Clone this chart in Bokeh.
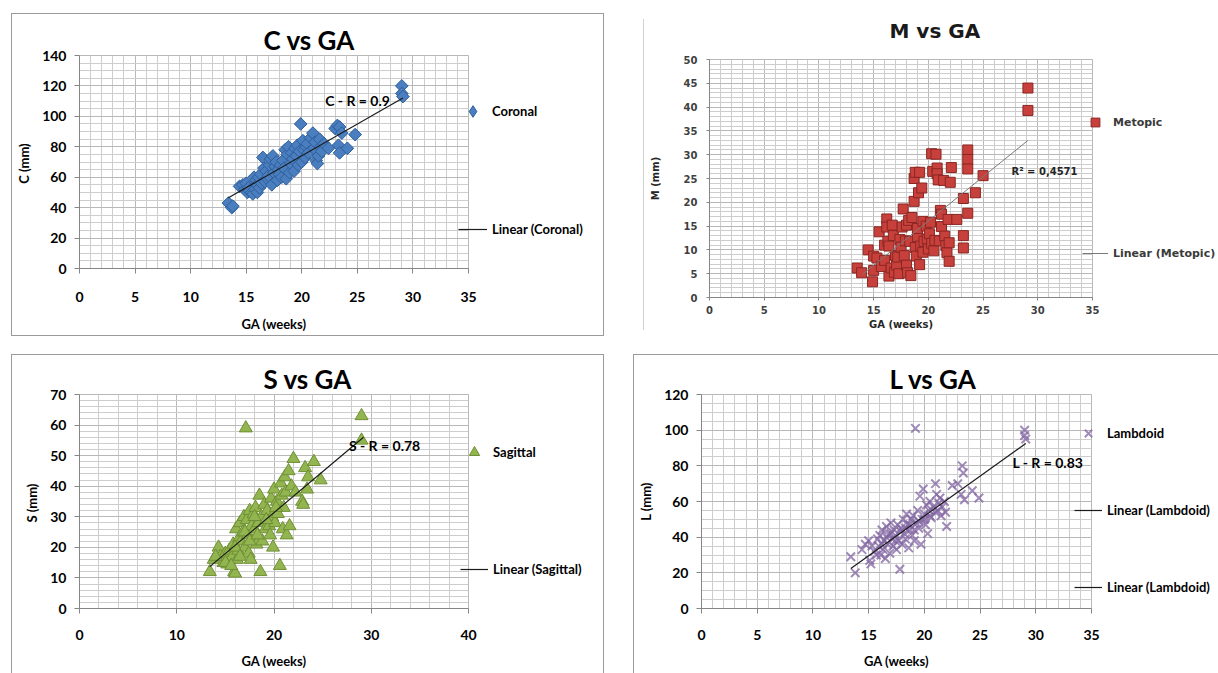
import math
from bokeh.plotting import figure
from bokeh.models import Range1d, SingleIntervalTicker, Label, Legend, LegendItem
from bokeh.layouts import column, row
from bokeh.embed import file_html
from bokeh.resources import INLINE

# ---------------- data ----------------
c_ga = [13.4, 13.7, 13.8, 14.4, 14.7, 14.9, 15.0, 15.1, 15.2, 15.3, 15.5, 15.6, 15.7, 15.8, 15.9,
        16.0, 16.0, 16.1, 16.2, 16.3, 16.4, 16.5, 16.6, 16.7, 16.8, 16.9,
        17.0, 17.1, 17.2, 17.3, 17.4, 17.5, 17.6, 17.7, 17.8, 17.9,
        18.0, 18.1, 18.2, 18.3, 18.4, 18.5, 18.6, 18.7, 18.8, 18.9,
        19.0, 19.1, 19.2, 19.3, 19.4, 19.5, 19.6, 19.7, 19.8, 19.9,
        20.0, 20.1, 20.2, 20.3, 20.4, 20.5, 20.6, 20.8,
        21.0, 21.1, 21.2, 21.3, 21.4, 21.5, 21.6, 21.7, 21.8, 22.0, 22.4,
        23.0, 23.2, 23.3, 23.4, 23.4, 23.6, 24.1, 24.8, 29.0, 29.0, 29.1]
c_mm = [43, 40, 41, 54, 55, 52, 56, 50, 53, 51, 50, 49, 60, 52, 58,
        55, 50, 60, 53, 62, 56, 73, 66, 57, 64, 59,
        61, 68, 72, 55, 74, 63, 67, 70, 58, 65,
        62, 68, 60, 71, 66, 78, 59, 75, 80, 63,
        69, 76, 72, 64, 79, 74, 81, 68, 77, 95,
        70, 84, 78, 73, 80, 82, 76, 86,
        89, 79, 83, 71, 69, 74, 85, 80, 77, 82, 79,
        92, 94, 81, 93, 76, 89, 79, 88, 120, 115, 113]
c_trend_ga = [13.4, 29.1]
c_trend_mm = [46.5, 112.0]

m_ga = [13.5, 13.9, 14.5, 14.9, 15.0, 15.0, 15.3, 15.5, 15.7,
        16.0, 16.0, 16.2, 16.2, 16.3, 16.4, 16.4, 16.6, 16.7, 16.8, 16.9,
        17.0, 17.1, 17.2, 17.3, 17.4, 17.5, 17.6, 17.7, 17.8, 17.9,
        18.0, 18.0, 18.1, 18.2, 18.3, 18.4, 18.5, 18.7, 18.7, 18.8, 18.8, 18.9,
        19.0, 19.0, 19.1, 19.2, 19.2, 19.3, 19.4, 19.5, 19.5, 19.6, 19.8, 19.9,
        20.0, 20.1, 20.2, 20.3, 20.3, 20.4, 20.5, 20.6, 20.7, 20.8, 20.8, 20.9,
        21.0, 21.1, 21.2, 21.2, 21.4, 21.5, 21.6, 21.7, 21.8, 21.9, 21.9,
        22.0, 22.1, 22.6, 23.2, 23.2, 23.2, 23.6, 23.6, 23.6, 23.6, 24.3, 25.0, 29.1, 29.1]
m_mm = [6.2, 5.2, 10.0, 3.3, 8.7, 5.7, 8.3, 13.8, 6.5,
        7.8, 11.0, 16.5, 14.8, 11.8, 10.8, 4.5, 6.2, 15.2, 13.0, 5.3,
        8.8, 6.8, 8.5, 5.0, 12.2, 10.6, 14.8, 18.6, 8.8, 11.9,
        15.2, 6.8, 5.2, 16.2, 11.8, 4.6, 16.8, 20.2, 25.0, 26.3, 10.5, 8.7,
        12.8, 14.5, 22.0, 26.3, 6.9, 10.8, 23.0, 16.0, 9.5, 11.8, 15.0, 12.3,
        10.2, 13.4, 15.8, 11.4, 30.2, 26.5, 9.8, 12.0, 30.1, 27.2, 26.0, 24.7,
        11.9, 18.3, 17.5, 14.9, 24.6, 12.9, 10.9, 9.4, 16.4, 7.6, 11.5,
        24.2, 27.3, 16.4, 20.8, 13.0, 10.4, 31.0, 29.0, 27.0, 17.7, 22.0, 25.6, 44.0, 39.3]
m_trend_ga = [14.0, 29.1]
m_trend_mm = [4.9, 33.0]

s_ga = [13.4, 13.8, 14.3, 14.5, 14.8, 15.0, 15.2, 15.4, 15.5, 15.7, 15.8, 15.9,
        16.0, 16.1, 16.2, 16.3, 16.4, 16.5, 16.6, 16.8, 16.9,
        17.0, 17.1, 17.2, 17.3, 17.4, 17.5, 17.6, 17.7, 17.8, 17.9,
        18.0, 18.1, 18.2, 18.4, 18.5, 18.6, 18.7, 18.8,
        19.0, 19.1, 19.3, 19.5, 19.7, 19.8, 19.9,
        20.0, 20.1, 20.3, 20.4, 20.6, 20.7, 20.8, 20.9,
        21.0, 21.1, 21.2, 21.3, 21.5, 21.6, 21.8, 22.0, 22.2, 22.9,
        23.0, 23.2, 23.4, 23.5, 24.1, 24.8, 29.0, 29.0,
        14.0, 15.0, 15.6, 16.0, 16.5, 17.0, 17.5, 18.0, 18.3, 19.2, 19.6, 20.2]
s_mm = [12, 16, 20, 17, 15, 18, 14.5, 19, 16, 17, 21, 12,
        11.5, 26, 16, 19, 23, 28, 22, 25, 30,
        20, 59, 29, 24, 18, 32, 16, 27, 22, 31,
        26, 33, 21, 28, 37, 12, 30, 22,
        34, 26, 32, 27, 36, 30, 20,
        39, 28, 35, 31, 14, 41, 37, 26,
        33, 43, 38, 24, 45, 27, 40, 49, 38, 35,
        34, 46, 39, 43, 48, 42, 63, 55,
        17, 15, 14, 20, 17, 25, 22, 30, 24, 29, 24, 33]
s_trend_ga = [13.4, 29.2]
s_trend_mm = [13.7, 56.0]

l_ga = [13.4, 13.8, 14.4, 14.7, 15.0, 15.1, 15.2, 15.5, 15.7, 15.9,
        16.0, 16.1, 16.2, 16.3, 16.4, 16.5, 16.6, 16.7, 16.8, 16.9,
        17.0, 17.1, 17.2, 17.3, 17.4, 17.5, 17.6, 17.7, 17.8, 17.9,
        18.0, 18.1, 18.2, 18.3, 18.4, 18.5, 18.6, 18.7, 18.8, 18.9,
        19.0, 19.1, 19.2, 19.3, 19.4, 19.5, 19.6, 19.7, 19.8, 19.9,
        20.0, 20.1, 20.2, 20.3, 20.4, 20.5, 20.6, 20.8,
        21.0, 21.1, 21.2, 21.3, 21.4, 21.5, 21.6, 21.8, 21.9, 22.0, 22.5,
        23.0, 23.3, 23.4, 23.5, 23.6, 24.3, 24.9, 29.0, 29.0, 29.1,
        15.3, 15.8, 16.2, 16.6, 17.0, 17.4, 17.9, 18.3, 18.7, 19.1, 19.5, 20.0, 20.5, 21.0]
l_mm = [29, 20, 33, 36, 38, 27, 25, 32, 30, 35,
        41, 30, 44, 33, 38, 28, 46, 36, 42, 31,
        48, 39, 35, 44, 41, 33, 47, 38, 22, 45,
        36, 50, 42, 39, 53, 47, 34, 44, 50, 41,
        52, 38, 101, 48, 55, 45, 63, 36, 50, 67,
        53, 47, 58, 42, 55, 60, 51, 57,
        70, 64, 55, 59, 62, 52, 57, 60, 54, 46, 69,
        70, 64, 80, 76, 61, 66, 62, 100, 97, 95,
        35, 39, 36, 40, 42, 38, 43, 45, 47, 44, 49, 50, 52, 54]
l_trend_ga = [13.4, 29.1]
l_trend_mm = [22.4, 92.5]

# ---------------- styling helpers ----------------
BOLD_FONT = "Lato"
VFONT = "DejaVu Sans"
AXIS_GREY = "#868686"


def base_fig(size, borders, xr, yr, xint, xminor, yint, yminor, margin, styles):
    left, right, top, bottom = borders
    p = figure(width=size[0], height=size[1], x_range=Range1d(*xr), y_range=Range1d(*yr),
               output_backend="svg", toolbar_location=None,
               min_border_left=left, min_border_right=right,
               min_border_top=top, min_border_bottom=bottom)
    p.margin = margin
    p.border_fill_alpha = 0
    p.background_fill_color = "white"
    p.outline_line_color = "#b8b8b8"
    p.styles = styles
    xt = SingleIntervalTicker(interval=xint, num_minor_ticks=xminor)
    yt = SingleIntervalTicker(interval=yint, num_minor_ticks=yminor)
    p.xaxis.ticker = xt
    p.yaxis.ticker = yt
    p.xgrid.ticker = xt
    p.ygrid.ticker = yt
    for g in (p.xgrid[0], p.ygrid[0]):
        g.grid_line_color = "#b8b8b8"
        g.minor_grid_line_color = "#cdcdcd"
    for ax in (p.xaxis[0], p.yaxis[0]):
        ax.axis_line_color = AXIS_GREY
        ax.major_tick_line_color = AXIS_GREY
        ax.minor_tick_line_color = None
        ax.major_tick_in = 0
    return p


def legend_fig(size, top, bottom, margin):
    """Transparent, axis-less canvas carrying only the legend box (its data lie off-range)."""
    q = figure(width=size[0], height=size[1], x_range=Range1d(0, 1), y_range=Range1d(0, 1),
               output_backend="svg", toolbar_location=None,
               x_axis_location=None, y_axis_location=None,
               min_border_left=0, min_border_right=0,
               min_border_top=top, min_border_bottom=bottom)
    q.margin = margin
    q.grid.visible = False
    q.outline_line_color = None
    q.background_fill_alpha = 0
    q.border_fill_alpha = 0
    return q


def excel_style(p, xlabel, ylabel, tick_standoff, label_standoff):
    for ax in (p.xaxis[0], p.yaxis[0]):
        ax.major_tick_out = 5
        ax.major_label_text_font = BOLD_FONT
        ax.major_label_text_font_style = "bold"
        ax.major_label_text_font_size = "14px"
        ax.major_label_text_color = "black"
        ax.axis_label_text_font = BOLD_FONT
        ax.axis_label_text_font_style = "bold"
        ax.axis_label_text_font_size = "13px"
        ax.axis_label_text_color = "black"
    p.xaxis[0].axis_label = xlabel
    p.yaxis[0].axis_label = ylabel
    p.xaxis[0].major_label_standoff = tick_standoff
    p.xaxis[0].axis_label_standoff = label_standoff
    p.yaxis[0].major_label_standoff = 8
    p.yaxis[0].axis_label_standoff = 7


def set_title(p, text, offset, standoff, font=BOLD_FONT, size="26px", color="black"):
    p.title.text = text
    p.title.align = "left"
    p.title.offset = offset
    p.title.standoff = standoff
    p.title.text_font = font
    p.title.text_font_size = size
    p.title.text_font_style = "bold"
    p.title.text_color = color


def r_label(p, x, y, text):
    p.add_layout(Label(x=x, y=y, text=text, text_font=BOLD_FONT, text_color="black",
                       text_font_size="14px", text_font_style="bold", text_baseline="middle"))


def add_legend(q, items, loc, spacing, glyph_w, glyph_h=26, font=BOLD_FONT, size="13px",
               color="black"):
    lg = Legend(items=items, location=loc, spacing=spacing, glyph_width=glyph_w,
                glyph_height=glyph_h, label_height=20, label_standoff=5, padding=0, margin=0,
                border_line_color=None, background_fill_alpha=0,
                label_text_font=font, label_text_font_size=size,
                label_text_font_style="bold", label_text_color=color)
    q.add_layout(lg)


def lines_bg(color, rects):
    layers = [f"linear-gradient({color}, {color}) {x}px {y}px / {w} {h} no-repeat"
              for (x, y, w, h) in rects]
    return {"background": ", ".join(layers)}


GREY = "#9a9a9a"
# panel frames drawn as thin background strokes on each figure's box
P1_BORDER = lines_bg(GREY, [(0, 18, "100%", "1px"), (0, 340, "100%", "1px"),
                            (0, 18, "1px", "323px"), (592, 18, "1px", "323px")])
P2_BORDER = lines_bg("#d2d2d2", [(0, 20, "1px", "311px")])
BORDER3 = {"box-shadow": f"inset 0 1px 0 {GREY}, inset 1px 0 0 {GREY}, inset -1px 0 0 {GREY}"}
BORDER2 = {"box-shadow": f"inset 0 1px 0 {GREY}, inset 1px 0 0 {GREY}"}

C_STYLE = dict(marker="square", angle=math.pi / 4, size=9, fill_color="#4a7ebf",
               line_color="#2e5f9b", line_width=1)
C_KEY = dict(marker="diamond", fill_color="#4a7ebf", line_color="#2e5f9b", line_width=1)
M_STYLE = dict(marker="square", size=10, fill_color="#c8403c", line_color="#8a2622", line_width=1)
S_STYLE = dict(marker="triangle", size=13, fill_color="#92b54f", line_color="#6f8f35", line_width=1)
L_STYLE = dict(marker="x", size=12, line_color="#8064a2", line_alpha=0.75, line_width=2)
TREND = dict(line_color="#1a1a1a", line_width=1.2)
TREND_M = dict(line_color="#7a7a7a", line_width=1)

TOP1, BOT1 = 58, 68   # shared inner borders of the top row
TOP2, BOT2 = 40, 65   # shared inner borders of the bottom row

# ---------------- C vs GA ----------------
p1 = base_fig((593, 341), (68, 136, TOP1, BOT1), (0, 35), (0, 140), 5, 5, 20, 4,
              (-5, 16, 9, 11), P1_BORDER)
excel_style(p1, "GA (weeks)", "C  (mm)", 18, 11)
p1.scatter(c_ga, c_mm, **C_STYLE)
p1.line(c_trend_ga, c_trend_mm, **TREND)
r_label(p1, 22.1, 110.7, "C - R = 0.9")
set_title(p1, "C  vs GA", 184, 0)

q1 = legend_fig((146, 341), TOP1, BOT1, (-5, 0, 9, -162))
k1 = q1.scatter(c_ga, c_mm, **C_KEY)
k1t = q1.line(c_trend_ga, c_trend_mm, **TREND)
add_legend(q1, [LegendItem(label="Coronal", renderers=[k1]),
                LegendItem(label="Linear (Coronal)", renderers=[k1t])],
           (0, 24), 88, 29, glyph_h=30)

# ---------------- M vs GA ----------------
p2 = base_fig((575, 366), (66, 126, TOP1, BOT1), (0, 35), (0, 50), 5, 5, 5, 5,
              (-1, 0, -20, 39), P2_BORDER)
for ax in (p2.xaxis[0], p2.yaxis[0]):
    ax.major_tick_out = 3
    ax.major_label_text_font = VFONT
    ax.major_label_text_font_style = "bold"
    ax.major_label_text_font_size = "10px"
    ax.major_label_text_color = "#3f3f3f"
    ax.axis_label_text_font = VFONT
    ax.axis_label_text_font_style = "bold"
    ax.axis_label_text_font_size = "10px"
    ax.axis_label_text_color = "#262626"
p2.xaxis[0].axis_label = "GA (weeks)"
p2.yaxis[0].axis_label = "M (mm)"
p2.xaxis[0].major_label_standoff = 4
p2.xaxis[0].axis_label_standoff = 2
p2.yaxis[0].major_label_standoff = 8
p2.yaxis[0].axis_label_standoff = 20
p2.scatter(m_ga, m_mm, **M_STYLE)
p2.line(m_trend_ga, m_trend_mm, **TREND_M)
p2.add_layout(Label(x=27.6, y=26.5, text="R² = 0,4571", text_font=VFONT,
                    text_font_size="10px", text_font_style="bold", text_color="#262626",
                    text_baseline="middle"))
set_title(p2, "M vs GA", 180, 34, font=VFONT, size="20px", color="#1a1a1a")

q2 = legend_fig((136, 366), TOP1, BOT1, (-1, 0, -20, -136))
k2 = q2.scatter(m_ga, m_mm, **M_STYLE)
k2t = q2.line(m_trend_ga, m_trend_mm, **TREND_M)
add_legend(q2, [LegendItem(label="Metopic", renderers=[k2]),
                LegendItem(label="Linear (Metopic)", renderers=[k2t])],
           (0, 33), 109, 26, glyph_h=22, font=VFONT, size="11px", color="#3a3a3a")

# ---------------- S vs GA ----------------
p3 = base_fig((593, 319), (68, 136, TOP2, BOT2), (0, 40), (0, 70), 10, 5, 10, 5,
              (9, 16, 0, 11), BORDER3)
excel_style(p3, "GA (weeks)", "S  (mm)", 16, 10)
p3.scatter(s_ga, s_mm, **S_STYLE)
p3.line(s_trend_ga, s_trend_mm, **TREND)
r_label(p3, 27.7, 53.3, "S - R = 0.78")
set_title(p3, "S vs GA", 184, 0)

q3 = legend_fig((144, 319), TOP2, BOT2, (9, 0, 0, -160))
k3 = q3.scatter(s_ga, s_mm, **S_STYLE)
k3t = q3.line(s_trend_ga, s_trend_mm, **TREND)
add_legend(q3, [LegendItem(label="Sagittal", renderers=[k3]),
                LegendItem(label="Linear (Sagittal)", renderers=[k3t])],
           (0, 26), 91, 28)

# ---------------- L vs GA ----------------
p4 = base_fig((585, 319), (68, 127, TOP2, BOT2), (0, 35), (0, 120), 5, 5, 20, 4,
              (9, 0, 0, 29), BORDER2)
excel_style(p4, "GA (weeks)", "L (mm)", 16, 10)
p4.scatter(l_ga, l_mm, **L_STYLE)
p4.line(l_trend_ga, l_trend_mm, **TREND)
r_label(p4, 27.9, 81.9, "L - R = 0.83")
set_title(p4, "L vs GA", 188, 0)

q4 = legend_fig((144, 319), TOP2, BOT2, (9, 0, 0, -144))
k4 = q4.scatter(l_ga, l_mm, **L_STYLE)
k4t = q4.line(l_trend_ga, l_trend_mm, **TREND)
add_legend(q4, [LegendItem(label="Lambdoid", renderers=[k4]),
                LegendItem(label="Linear (Lambdoid)", renderers=[k4t]),
                LegendItem(label="Linear (Lambdoid)", renderers=[k4t])],
           (0, 8), 51, 28)

layout = column(row(p1, q1, p2, q2), row(p3, q3, p4, q4))

with open("out.html", "w") as f:
    f.write(file_html(layout, INLINE))
